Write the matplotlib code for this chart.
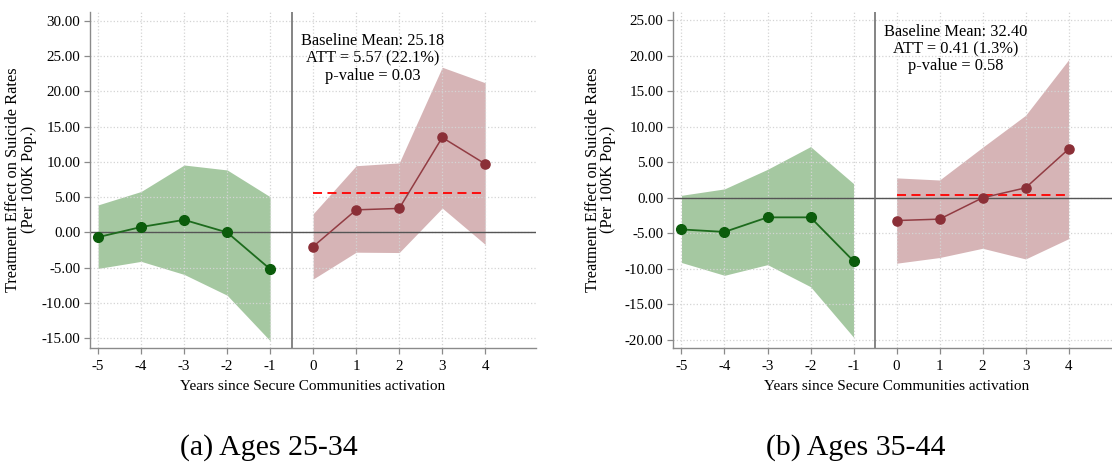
import matplotlib.pyplot as plt
from matplotlib.ticker import FormatStrFormatter

plt.rcParams['font.family'] = ['Liberation Serif', 'DejaVu Serif']
plt.rcParams['axes.unicode_minus'] = False

pre_years = [-5, -4, -3, -2, -1]
post_years = [0, 1, 2, 3, 4]

# Ages 25-34
a_pre = [-0.67, 0.77, 1.78, 0.0, -5.2]
a_pre_hi = [3.9, 5.8, 9.55, 8.85, 5.05]
a_pre_lo = [-5.1, -4.1, -5.95, -8.9, -15.35]
a_post = [-2.0, 3.2, 3.4, 13.45, 9.7]
a_post_hi = [2.65, 9.45, 9.85, 23.4, 21.2]
a_post_lo = [-6.6, -2.8, -2.85, 3.45, -1.7]
a_att = 5.57
a_text = 'Baseline Mean: 25.18\nATT = 5.57 (22.1%)\np-value = 0.03'

# Ages 35-44
b_pre = [-4.45, -4.8, -2.75, -2.75, -8.9]
b_pre_hi = [0.35, 1.25, 4.0, 7.2, 2.0]
b_pre_lo = [-9.1, -10.9, -9.4, -12.5, -19.6]
b_post = [-3.2, -3.0, 0.0, 1.4, 6.85]
b_post_hi = [2.8, 2.5, 7.1, 11.6, 19.4]
b_post_lo = [-9.2, -8.4, -7.1, -8.6, -5.75]
b_att = 0.41
b_text = 'Baseline Mean: 32.40\nATT = 0.41 (1.3%)\np-value = 0.58'

fig = plt.figure(figsize=(11.12, 4.62), dpi=100)
ax1 = fig.add_axes([0.0809, 0.2474, 0.4011, 0.7273])
ax2 = fig.add_axes([0.6055, 0.2474, 0.4011, 0.7273])


def draw(ax, pre, pre_hi, pre_lo, post, post_hi, post_lo, att, txt, ylim, yticks, txt_y, ylab_x):
    ax.fill_between(pre_years, pre_lo, pre_hi, color='#a5c8a1', lw=0)
    ax.fill_between(post_years, post_lo, post_hi, color='#d6b4b6', lw=0)
    ax.axhline(0, color='#555555', lw=1.0, zorder=2)
    ax.axvline(-0.5, color='#707070', lw=1.2, zorder=2)
    ax.plot(pre_years, pre, color='#1d6b1d', lw=1.3, marker='o', ms=7,
            mfc='#0b5c0b', mec='#0b5c0b', zorder=4)
    ax.plot(post_years, post, color='#923c43', lw=1.1, marker='o', ms=6.6,
            mfc='#8b2f37', mec='#8b2f37', zorder=4)
    ax.plot([0, 4], [att, att], color='#ff0000', lw=1.3, ls=(0, (5, 3)), zorder=3)
    ax.text(1.38, txt_y, txt, ha='center', va='top', fontsize=11.8, linespacing=1.12)

    ax.set_xlim(-5.19, 5.18)
    ax.set_ylim(*ylim)
    ax.set_xticks(pre_years + post_years)
    ax.set_yticks(yticks)
    ax.yaxis.set_major_formatter(FormatStrFormatter('%.2f'))
    ax.grid(True, color='#d4d4d4', ls=':', lw=0.9)
    for s in ['top', 'right']:
        ax.spines[s].set_visible(False)
    for s in ['left', 'bottom']:
        ax.spines[s].set_color('#8a8a8a')
        ax.spines[s].set_linewidth(1.0)
    ax.tick_params(colors='#8a8a8a', labelcolor='black', length=4, width=0.9,
                   labelsize=10.8, pad=3)
    ax.tick_params(axis='x', pad=5)
    ax.set_xlabel('Years since Secure Communities activation', fontsize=11, labelpad=5)
    ax.set_ylabel('Treatment Effect on Suicide Rates\n(Per 100K Pop.)', fontsize=11.8,
                  linespacing=0.95)
    ax.yaxis.set_label_coords(ylab_x, 0.5)


draw(ax1, a_pre, a_pre_hi, a_pre_lo, a_post, a_post_hi, a_post_lo, a_att, a_text,
     (-16.33, 31.27), [30, 25, 20, 15, 10, 5, 0, -5, -10, -15], 28.3, -0.119)
draw(ax2, b_pre, b_pre_hi, b_pre_lo, b_post, b_post_hi, b_post_lo, b_att, b_text,
     (-21.08, 26.17), [25, 20, 15, 10, 5, 0, -5, -10, -15, -20], 24.5, -0.128)

fig.text(0.242, 0.015, '(a) Ages 25-34', ha='center', va='baseline', fontsize=21.5)
fig.text(0.77, 0.015, '(b) Ages 35-44', ha='center', va='baseline', fontsize=21.5)

fig.savefig('out.png', dpi=100)
